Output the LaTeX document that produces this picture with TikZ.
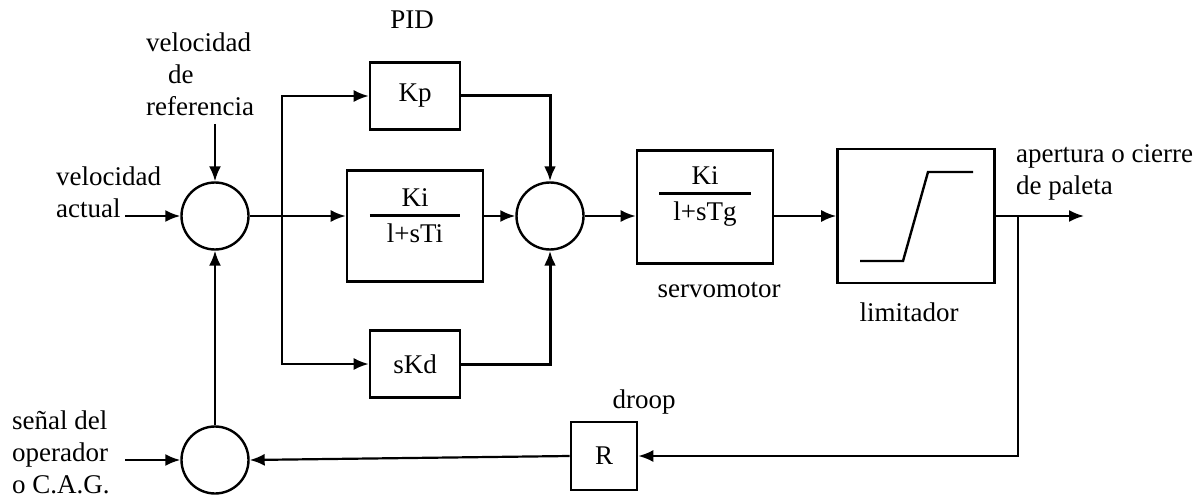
\documentclass[tikz,border=0pt]{standalone}
\usepackage{fontspec}
\setmainfont{Liberation Serif}
\usetikzlibrary{arrows.meta,calc}
\begin{document}
\begin{tikzpicture}[x=0.5pt,y=-0.5pt,
  line width=1.1pt,
  sig/.style={-{Latex[length=7.5pt,width=6pt]}},
  blk/.style={draw,line width=1.3pt,inner sep=0pt,font=\fontsize{13.5}{16}\selectfont},
  sumc/.style={draw,circle,line width=1.2pt,minimum size=33.5pt,inner sep=0pt},
  lbl/.style={font=\fontsize{13.5}{16}\selectfont,inner sep=0pt},
  frac/.style={font=\fontsize{13.5}{16}\selectfont,inner sep=0pt}]
\useasboundingbox (0,0) rectangle (1202,497);
\setlength{\arrayrulewidth}{1.3pt}
% summing junctions
\node[sumc] (s1) at (215,216) {};
\node[sumc] (s2) at (550,216) {};
\node[sumc] (s3) at (215,460) {};
% blocks
\node[blk,minimum width=45pt,minimum height=33.5pt] (kp) at (415,96) {Kp};
\node[blk,minimum width=68pt,minimum height=55.5pt] (ki) at (415,226) {};
\node[frac] (kifrac) at (415,218) {\begin{tabular}{@{\hspace{8.5pt}}c@{\hspace{8.5pt}}}Ki\\[-1pt]\hline\rule{0pt}{13pt}l+sTi\end{tabular}};
\node[blk,minimum width=45pt,minimum height=33.5pt] (skd) at (415,364) {sKd};
\node[blk,minimum width=68pt,minimum height=56.5pt] (servo) at (705,207) {};
\node[frac] (servofrac) at (705,196) {\begin{tabular}{@{\hspace{7pt}}c@{\hspace{7pt}}}Ki\\[-1pt]\hline\rule{0pt}{13pt}l+sTg\end{tabular}};
\node[blk,minimum width=78.5pt,minimum height=67pt] (lim) at (916,216) {};
\node[blk,minimum width=33pt,minimum height=34pt] (r) at (604,456) {R};
% limiter characteristic
\draw[line width=1.2pt] (860,261) -- (903,261) -- (928,172) -- (973,172);
% labels
\node[lbl] (pid) at (412,20) {PID};
\node[lbl,align=left,anchor=west] (ref) at (145,74) {velocidad\\\hspace{11pt}de\\referencia};
\node[lbl,align=left,anchor=west] (act) at (55,192) {velocidad\\actual};
\node[lbl,align=left,anchor=west] (op) at (11,452) {se\~nal del\\operador\\o C.A.G.};
\node[lbl,align=left,anchor=west] (ap) at (1015,172) {apertura o cierre\\de paleta};
\node[lbl] (servolbl) at (719,290) {servomotor};
\node[lbl] (limlbl) at (909,312) {limitador};
\node[lbl] (drooplbl) at (644,402) {droop};
% free ends
\coordinate (refin) at (215,124);
\coordinate (actin) at (125,216);
\coordinate (opin) at (125,460);
\coordinate (br) at (282,216);
\coordinate (jn) at (1018,216);
\coordinate (outend) at (1084,216);
% connectors
\draw[sig] (refin) -- (s1.north);
\draw[sig] (actin) -- (s1.west);
\draw[sig] (opin) -- (s3.west);
\draw[sig] (s3.north) -- (s1.south);
\draw[sig] (s1.east) -- (s1 -| ki.west);
\draw[sig] (br) |- (kp.west);
\draw[sig] (br) |- (skd.west);
\draw[sig] (ki.east |- s2) -- (s2.west);
\draw[sig,line width=1.5pt] (kp.east) -| (s2.north);
\draw[sig,line width=1.5pt] (skd.east) -| (s2.south);
\draw[sig] (s2.east) -- (s2 -| servo.west);
\draw[sig] (servo.east |- jn) -- (lim.west |- jn);
\draw[sig] (lim.east |- jn) -- (outend);
\draw[sig] (jn) |- (r.east);
\draw[sig] (r.west) -- (s3.east);
\end{tikzpicture}
\end{document}
